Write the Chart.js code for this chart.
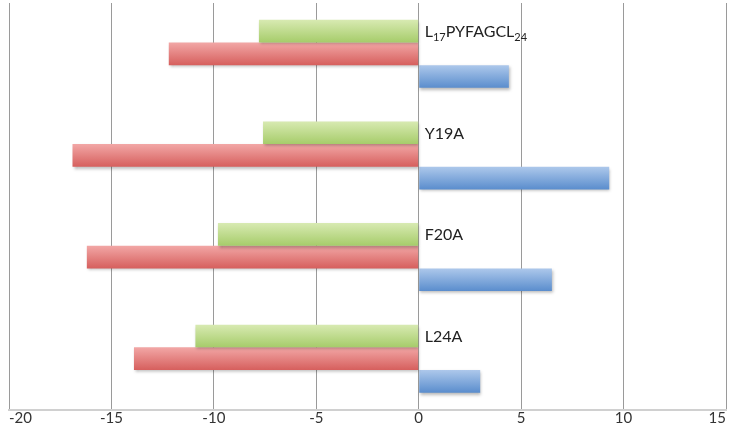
<!DOCTYPE html>
<html lang="en">
<head>
<meta charset="UTF-8">
<title>Bar chart</title>
<script src="https://cdn.jsdelivr.net/npm/chart.js"></script>
<style>
  html, body { margin: 0; padding: 0; background: #fff; }
  #wrap { width: 730px; height: 426px; position: relative; }
</style>
</head>
<body>
<div id="wrap"><canvas id="grafico"></canvas></div>
<script>
// datos del grafico
const categorias = ['L_{17}PYFAGCL_{24}', 'Y19A', 'F20A', 'L24A'];
const serieVerde = [-7.8, -7.6, -9.8, -10.9];
const serieRoja = [-12.2, -16.9, -16.2, -13.9];
const serieAzul = [4.4, 9.3, 6.5, 3.0];
const ticksX = [-20, -15, -10, -5, 0, 5, 10, 15];

// colores degradados (arriba, abajo)
const degradados = [
  ['#d8eab2', '#a6cc6a'],
  ['#f2a7a6', '#d65f5d'],
  ['#adc8eb', '#5a8dcd']
];

// pinta cada barra con su propio degradado vertical y una sombra leve
const barrasDegradado = {
  id: 'barrasDegradado',
  beforeDatasetDraw(chart, args) {
    const ctx = chart.ctx;
    const cols = degradados[args.index];
    args.meta.data.forEach(el => {
      const top = el.y - el.height / 2;
      const g = ctx.createLinearGradient(0, top, 0, top + el.height);
      g.addColorStop(0, cols[0]);
      g.addColorStop(1, cols[1]);
      // las opciones se comparten entre barras, asi que se copia
      el.options = Object.assign({}, el.options, { backgroundColor: g });
    });
    ctx.save();
    ctx.shadowColor = 'rgba(0,0,0,0.28)';
    ctx.shadowBlur = 3;
    ctx.shadowOffsetX = 1;
    ctx.shadowOffsetY = 2;
  },
  afterDatasetDraw(chart) {
    chart.ctx.restore();
  }
};

// etiquetas de categoria junto al eje 0, con subindices
const etiquetas = {
  id: 'etiquetas',
  afterDatasetsDraw(chart) {
    const ctx = chart.ctx;
    const x0 = chart.scales.x.getPixelForValue(0) + 6;
    const meta = chart.getDatasetMeta(0);
    ctx.save();
    ctx.fillStyle = '#222';
    ctx.textBaseline = 'alphabetic';
    categorias.forEach((txt, i) => {
      const yc = meta.data[i].y;
      const base = yc + 6;
      let x = x0;
      const partes = txt.split(/(_\{[^}]*\})/).filter(p => p.length);
      partes.forEach(p => {
        if (p.startsWith('_{')) {
          const s = p.slice(2, -1);
          ctx.font = '11px Lato, "Open Sans", sans-serif';
          ctx.fillText(s, x, base + 4);
          x += ctx.measureText(s).width;
        } else {
          ctx.font = '16px Lato, "Open Sans", sans-serif';
          ctx.fillText(p, x, base);
          x += ctx.measureText(p).width;
        }
      });
    });
    ctx.restore();
  }
};

const ctx = document.getElementById('grafico').getContext('2d');
const grafico = new Chart(ctx, {
  type: 'bar',
  data: {
    labels: categorias,
    datasets: [
      { label: 'verde', data: serieVerde, backgroundColor: degradados[0][1] },
      { label: 'roja', data: serieRoja, backgroundColor: degradados[1][1] },
      { label: 'azul', data: serieAzul, backgroundColor: degradados[2][1] }
    ]
  },
  options: {
    indexAxis: 'y',
    responsive: true,
    maintainAspectRatio: false,
    animation: false,
    layout: { padding: { left: 9, right: 4, top: 3, bottom: 0 } },
    datasets: {
      bar: { categoryPercentage: 0.67, barPercentage: 1.0, borderWidth: 0 }
    },
    plugins: {
      legend: { display: false },
      tooltip: { enabled: false }
    },
    scales: {
      x: {
        min: -20,
        max: 15,
        afterBuildTicks(scale) {
          scale.ticks = ticksX.map(v => ({ value: v }));
        },
        grid: {
          color: '#9a9a9a',
          lineWidth: 1,
          drawTicks: false
        },
        border: { color: '#d0d0d0', width: 2 },
        ticks: {
          align: 'inner',
          padding: 0,
          color: '#333',
          font: { family: 'Lato, "Open Sans", sans-serif', size: 15, lineHeight: 1.1 }
        }
      },
      y: {
        display: false
      }
    }
  },
  plugins: [barrasDegradado, etiquetas]
});
</script>
</body>
</html>
